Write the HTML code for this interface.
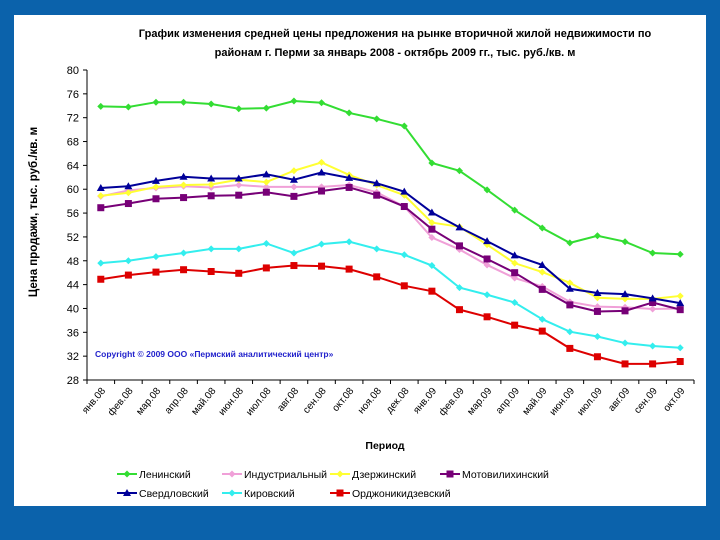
<!DOCTYPE html>
<html><head><meta charset="utf-8"><style>
html,body{margin:0;padding:0;}
body{width:720px;height:540px;background:#0b62ab;position:relative;overflow:hidden;font-family:"Liberation Sans",sans-serif;}
#panel{position:absolute;left:14px;top:15px;width:692px;height:491px;background:#fff;}
svg{position:absolute;left:0;top:0;}
</style></head><body>
<div id="panel"></div>
<svg id="chart" width="720" height="540"></svg>
<script>
const categories=["янв.08","фев.08","мар.08","апр.08","май.08","июн.08","июл.08","авг.08","сен.08","окт.08","ноя.08","дек.08","янв.09","фев.09","мар.09","апр.09","май.09","июн.09","июл.09","авг.09","сен.09","окт.09"];
const yTicks=[28,32,36,40,44,48,52,56,60,64,68,72,76,80];
const seriesNames=["Ленинский","Индустриальный","Дзержинский","Мотовилихинский","Свердловский","Кировский","Орджоникидзевский"];
const seriesColors=["#33dd33","#f0a0d8","#ffff33","#770077","#000099","#33eeee","#dd0000"];
const seriesMarkers=["diamond","diamond","diamond","square","triangle","diamond","square"];
const leninsky=[73.9,73.8,74.6,74.6,74.3,73.5,73.6,74.8,74.5,72.8,71.8,70.6,64.4,63.1,59.9,56.5,53.5,51.0,52.2,51.2,49.3,49.1];
const industrial=[58.8,59.8,60.2,60.5,60.3,60.7,60.4,60.4,60.4,60.7,59.5,57.1,51.9,49.9,47.3,45.1,43.7,41.1,40.3,40.2,39.9,40.0];
const dzerzhinsky=[58.9,59.4,60.4,60.7,60.8,61.6,61.2,63.1,64.5,62.4,60.7,59.0,54.4,53.7,50.7,47.6,46.1,44.3,41.8,41.6,41.6,42.1];
const motovilikhinsky=[56.9,57.6,58.4,58.6,58.9,59.0,59.5,58.8,59.7,60.3,59.0,57.1,53.3,50.5,48.3,46.0,43.2,40.6,39.5,39.6,41.0,39.8];
const sverdlovsky=[60.2,60.5,61.4,62.1,61.8,61.8,62.5,61.6,62.8,61.9,61.0,59.6,56.1,53.6,51.3,48.9,47.3,43.3,42.6,42.4,41.7,40.9];
const kirovsky=[47.6,48.0,48.7,49.3,50.0,50.0,50.9,49.3,50.8,51.2,50.0,49.0,47.2,43.5,42.3,41.0,38.2,36.1,35.3,34.2,33.7,33.4];
const ordzhonikidzevsky=[44.9,45.6,46.1,46.5,46.2,45.9,46.8,47.2,47.1,46.6,45.3,43.8,42.9,39.8,38.6,37.2,36.2,33.3,31.9,30.7,30.7,31.1];
const allSeries=[leninsky,industrial,dzerzhinsky,motovilikhinsky,sverdlovsky,kirovsky,ordzhonikidzevsky];

const NS="http://www.w3.org/2000/svg";
const svg=document.getElementById('chart');
const X0=87,X1=694,Y0=380,Y1=70,YMIN=28,YMAX=80;
const bw=(X1-X0)/categories.length;
const xs=i=>X0+bw*(i+0.5);
const ys=v=>Y0-(v-YMIN)/(YMAX-YMIN)*(Y0-Y1);
function mk(tag,attrs,parent){const e=document.createElementNS(NS,tag);for(const k in attrs)e.setAttribute(k,attrs[k]);(parent||svg).appendChild(e);return e;}

const t=mk('text',{x:395,y:37,'text-anchor':'middle','font-size':'11','font-weight':'bold',fill:'#000'});


t.textContent='График изменения средней цены предложения на рынке вторичной жилой недвижимости по';
const t2=mk('text',{x:395,y:56,'text-anchor':'middle','font-size':'11','font-weight':'bold',fill:'#000'});


t2.textContent='районам г. Перми за январь 2008 - октябрь 2009 гг., тыс. руб./кв. м';

const ax=mk('line',{x1:X0,y1:Y1,x2:X0,y2:Y0,stroke:'#000','stroke-width':1});


const axx=mk('line',{x1:X0,y1:Y0,x2:X1,y2:Y0,stroke:'#000','stroke-width':1});


yTicks.forEach(v=>{
  const y=ys(v);
  mk('line',{x1:X0-4,y1:y,x2:X0,y2:y,stroke:'#000'});
  const l=mk('text',{x:X0-8,y:y+4,'text-anchor':'end','font-size':'11',fill:'#000'});
  
  
  l.textContent=v;
});
for(let i=0;i<=categories.length;i++){const x=X0+bw*i;mk('line',{x1:x,y1:Y0,x2:x,y2:Y0+4,stroke:'#000'});}
categories.forEach((c,i)=>{
  const x=xs(i)+5,y=Y0+11;
  const l=mk('text',{x:x,y:y,'text-anchor':'end','font-size':'10',fill:'#000',transform:`rotate(-50 ${x} ${y})`});
  
  
  l.textContent=c;
});
const xt=mk('text',{x:385,y:449,'text-anchor':'middle','font-size':'10.5','font-weight':'bold',fill:'#000'});


xt.textContent='Период';
const yt=mk('text',{x:37,y:212,'text-anchor':'middle','font-size':'11.5','font-weight':'bold',fill:'#000',transform:'rotate(-90 37 212)'});


yt.textContent='Цена продажи, тыс. руб./кв. м';
const cp=mk('text',{x:95,y:357,'font-size':'8.5','font-weight':'bold',fill:'#2222cc'});


cp.textContent='Copyright © 2009 ООО «Пермский аналитический центр»';

function marker(type,x,y,color,g){
  if(type==='square')return mk('rect',{x:x-3.5,y:y-3.5,width:7,height:7,fill:color},g);
  if(type==='triangle')return mk('polygon',{points:`${x},${y-4} ${x+4},${y+3} ${x-4},${y+3}`,fill:color},g);
  return mk('polygon',{points:`${x},${y-3.5} ${x+3.5},${y} ${x},${y+3.5} ${x-3.5},${y}`,fill:color},g);
}
allSeries.forEach((data,s)=>{
  const g=mk('g',{});
  
  
  const p=mk('polyline',{points:data.map((v,i)=>xs(i)+','+ys(v)).join(' '),fill:'none',stroke:seriesColors[s],'stroke-width':2},g);
  
  
  data.forEach((v,i)=>{
    const m=marker(seriesMarkers[s],xs(i),ys(v),seriesColors[s],g);
    
    
  });
});

const legPos=[[117,474],[222,474],[330,474],[440,474],[117,493],[222,493],[330,493]];
seriesNames.forEach((n,s)=>{
  const [x,y]=legPos[s];
  const g=mk('g',{});
  
  
  mk('line',{x1:x,y1:y,x2:x+20,y2:y,stroke:seriesColors[s],'stroke-width':2},g);
  marker(seriesMarkers[s],x+10,y,seriesColors[s],g);
  const l=mk('text',{x:x+22,y:y+4,'font-size':'10.5',fill:'#000'},g);
  l.textContent=n;
});
</script>
</body></html>
